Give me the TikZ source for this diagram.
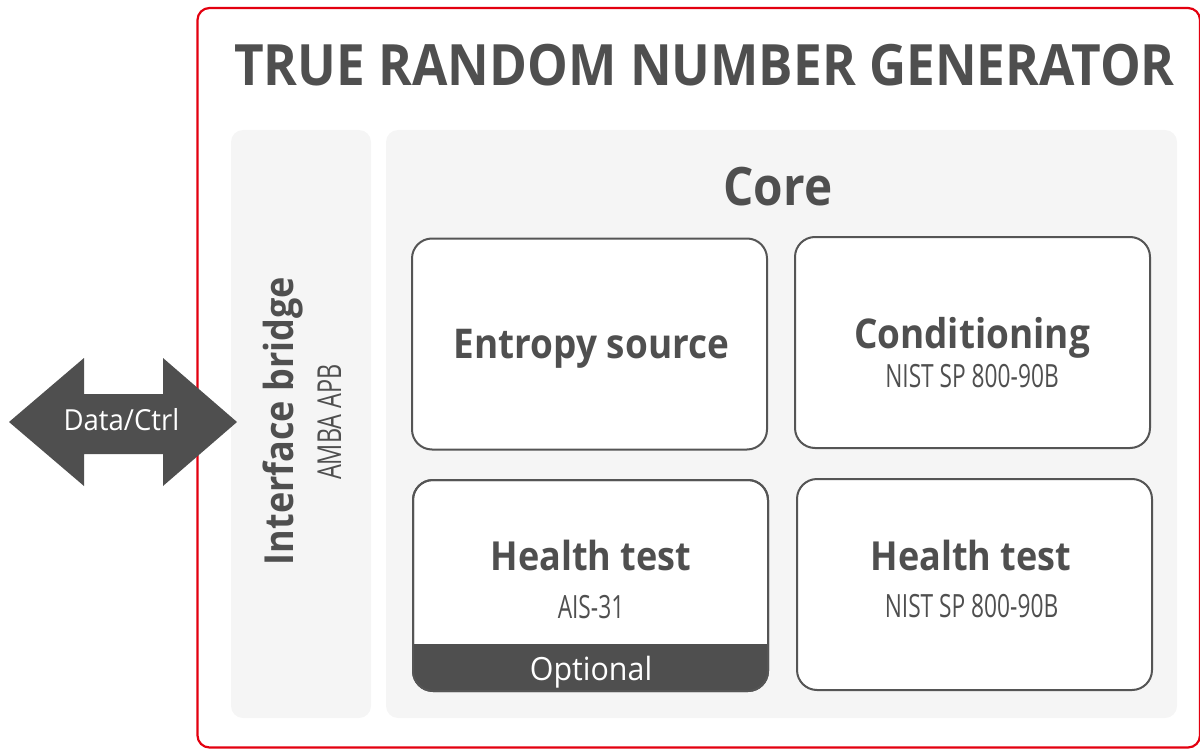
\documentclass[tikz,border=0pt]{standalone}
\usepackage{fontspec}
\setmainfont{Open Sans}
\newfontfamily\headf[FakeStretch=0.9]{Open Sans}
\newfontfamily\condf[FakeStretch=0.71]{Open Sans}
\newfontfamily\regf[FakeStretch=0.95]{Open Sans}
\definecolor{darkc}{HTML}{4F4F4F}
\definecolor{linec}{HTML}{555555}
\definecolor{bgc}{HTML}{F5F5F5}
\definecolor{redc}{HTML}{E3000F}
\tikzset{
  panel/.style={fill=bgc, rounded corners=12pt, draw=none, inner sep=0pt, outer sep=0pt},
  blockbox/.style={draw=linec, line width=2pt, fill=white, rounded corners=20pt, inner sep=0pt, outer sep=0pt, minimum width=355pt, minimum height=211pt},
  headtxt/.style={text=darkc, font=\headf\bfseries\fontsize{40}{44}\selectfont, anchor=base, inner sep=0pt},
  subtxt/.style={text=darkc, font=\condf\fontsize{32}{36}\selectfont, anchor=base, inner sep=0pt},
}
\begin{document}
\begin{tikzpicture}[x=1pt,y=-1pt]
\useasboundingbox (0,0) rectangle (1200,749);
% outer frame
\draw[redc, line width=2.2pt, rounded corners=12pt] (197.5,8) rectangle (1200,747.5);
% title
\node[text=darkc, font=\headf\bfseries\fontsize{57}{60}\selectfont, anchor=base, inner sep=0pt] (title) at (704.5,86) {TRUE RANDOM NUMBER GENERATOR};
% panels
\node[panel, minimum width=140pt, minimum height=588pt] (ifp) at (301,424) {};
\node[panel, minimum width=791pt, minimum height=588pt] (corep) at (781.5,424) {};
\node[text=darkc, font=\headf\bfseries\fontsize{53}{56}\selectfont, anchor=base, inner sep=0pt] (coret) at (778,205) {Core};
% interface bridge text
\node[headtxt, rotate=90] (ift) at (293,421) {Interface bridge};
\node[subtxt, font=\condf\fontsize{33}{36}\selectfont, rotate=90] (amba) at (341,422) {AMBA APB};
% blocks
\node[blockbox] (ent) at (589.5,344) {};
\node[blockbox] (cond) at (972.5,342.5) {};
\node[blockbox] (htl) at (590.5,585.5) {};
\node[blockbox] (htr) at (974.5,584.5) {};
% optional band
\begin{scope}
\clip[rounded corners=20pt] (413,480) rectangle (768,691);
\fill[darkc] (413,644) rectangle (768,691);
\end{scope}
\draw[linec, line width=2pt, rounded corners=20pt] (htl.north west) rectangle (htl.south east);
% block texts
\node[headtxt, font=\headf\bfseries\fontsize{41}{44}\selectfont] (entt) at (591.5,358) {Entropy source};
\node[headtxt, font=\headf\bfseries\fontsize{41}{44}\selectfont] (condt) at (972,348) {Conditioning};
\node[subtxt] (conds) at (972,387) {NIST SP 800-90B};
\node[headtxt] (htlt) at (591,570) {Health test};
\node[subtxt] (htls) at (591,618) {AIS-31};
\node[text=white, font=\regf\fontsize{32}{36}\selectfont, anchor=base, inner sep=0pt] (opt) at (591,680) {Optional};
\node[headtxt] (htrt) at (971,570) {Health test};
\node[subtxt] (htrs) at (971.5,617) {NIST SP 800-90B};
% data/ctrl arrow
\fill[darkc] (9,422) -- (84,358) -- (84,394) -- (163,394) -- (163,358) -- (237,422) -- (163,486) -- (163,454) -- (84,454) -- (84,486) -- cycle;
\node[text=white, font=\regf\fontsize{29}{32}\selectfont, anchor=base, inner sep=0pt] (dc) at (121.5,430) {Data/Ctrl};
\end{tikzpicture}
\end{document}
